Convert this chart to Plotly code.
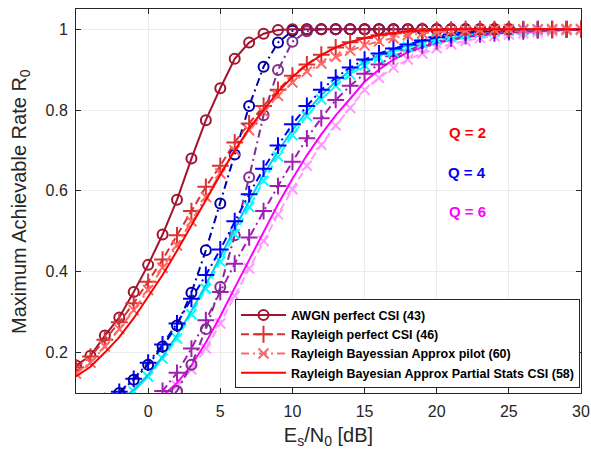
import plotly.graph_objects as go

# ---------------- data ----------------
SNR_DB = [-5, -4, -3, -2, -1, 0, 1, 2, 3, 4, 5, 6, 7, 8, 9, 10, 11, 12, 13, 14,
          15, 16, 17, 18, 19, 20, 21, 22, 23, 24, 25, 26, 27, 28, 29, 30]

# Q = 2
awgn_q2_x = SNR_DB[0:31]          # -5 .. 25
awgn_q2 = [0.168, 0.192, 0.242, 0.287, 0.350, 0.417, 0.492, 0.578, 0.680, 0.775,
           0.854, 0.927, 0.967, 0.989, 0.998, 1.0, 1.0, 1.0, 1.0, 1.0,
           1.0, 1.0, 1.0, 1.0, 1.0, 1.0, 1.0, 1.0, 1.0, 1.0, 1.0]
ray_q2_x = SNR_DB                  # -5 .. 30
ray_q2 = [0.163, 0.190, 0.232, 0.275, 0.322, 0.375, 0.430, 0.490, 0.550, 0.610,
          0.662, 0.720, 0.767, 0.810, 0.850, 0.885, 0.913, 0.937, 0.955, 0.968,
          0.978, 0.985, 0.990, 0.994, 0.996, 0.998, 0.999, 1.0, 1.0, 1.0,
          1.0, 1.0, 1.0, 1.0, 1.0, 1.0]
pilot_q2 = [0.148, 0.175, 0.215, 0.258, 0.305, 0.355, 0.410, 0.465, 0.525, 0.585,
            0.643, 0.700, 0.750, 0.795, 0.835, 0.868, 0.895, 0.915, 0.932, 0.947,
            0.960, 0.970, 0.978, 0.985, 0.990, 0.993, 0.995, 0.997, 0.998, 0.999,
            1.0, 1.0, 1.0, 1.0, 1.0, 1.0]
partial_q2 = [0.141, 0.165, 0.200, 0.238, 0.285, 0.337, 0.392, 0.452, 0.515, 0.578,
              0.640, 0.700, 0.755, 0.800, 0.845, 0.882, 0.912, 0.936, 0.955, 0.968,
              0.978, 0.986, 0.991, 0.995, 0.997, 0.999, 1.0, 1.0, 1.0, 1.0,
              1.0, 1.0, 1.0, 1.0, 1.0, 1.0]

# Q = 4
awgn_q4_x = SNR_DB[3:31]           # -2 .. 25
awgn_q4 = [0.100, 0.133, 0.170, 0.215, 0.267, 0.348, 0.453, 0.569, 0.690, 0.810,
           0.907, 0.967, 0.996, 1.0, 1.0, 1.0, 1.0, 1.0, 1.0, 1.0,
           1.0, 1.0, 1.0, 1.0, 1.0, 1.0, 1.0, 1.0]
ray_q4_x = SNR_DB[2:]              # -3 .. 30
ray_q4 = [0.080, 0.103, 0.135, 0.175, 0.220, 0.272, 0.333, 0.392, 0.455, 0.525,
          0.592, 0.655, 0.712, 0.765, 0.810, 0.850, 0.880, 0.905, 0.925, 0.940,
          0.952, 0.962, 0.972, 0.980, 0.987, 0.992, 0.995, 0.997, 0.998, 0.999,
          1.0, 1.0, 1.0, 1.0]
pilot_q4_x = SNR_DB[3:]            # -2 .. 30
pilot_q4 = [0.077, 0.104, 0.140, 0.185, 0.235, 0.295, 0.358, 0.425, 0.493, 0.560,
            0.625, 0.685, 0.738, 0.785, 0.826, 0.860, 0.888, 0.911, 0.929, 0.944,
            0.956, 0.966, 0.975, 0.982, 0.987, 0.991, 0.994, 0.996, 0.998, 0.999,
            1.0, 1.0, 1.0]
partial_q4 = [0.080, 0.108, 0.145, 0.190, 0.243, 0.303, 0.368, 0.437, 0.507, 0.575,
              0.640, 0.698, 0.750, 0.797, 0.837, 0.870, 0.897, 0.918, 0.935, 0.949,
              0.960, 0.970, 0.978, 0.985, 0.990, 0.994, 0.996, 0.998, 0.999, 1.0,
              1.0, 1.0, 1.0]

# Q = 6
awgn_q6_x = SNR_DB[6:31]           # 1 .. 25
awgn_q6 = [0.068, 0.105, 0.170, 0.258, 0.362, 0.490, 0.634, 0.787, 0.899, 0.969,
           0.995, 1.0, 1.0, 1.0, 1.0, 1.0, 1.0, 1.0, 1.0, 1.0,
           1.0, 1.0, 1.0, 1.0, 1.0]
ray_q6_x = SNR_DB[5:]              # 0 .. 30
ray_q6 = [0.075, 0.105, 0.150, 0.210, 0.280, 0.350, 0.420, 0.485, 0.550, 0.612,
          0.672, 0.730, 0.780, 0.825, 0.860, 0.890, 0.913, 0.933, 0.948, 0.960,
          0.970, 0.977, 0.983, 0.987, 0.990, 0.993, 0.995, 0.997, 0.998, 0.999, 1.0]
pilot_q6 = [0.065, 0.088, 0.118, 0.158, 0.210, 0.272, 0.340, 0.408, 0.476, 0.542,
            0.604, 0.662, 0.714, 0.762, 0.805, 0.850, 0.880, 0.905, 0.925, 0.940,
            0.953, 0.963, 0.971, 0.978, 0.983, 0.987, 0.990, 0.993, 0.995, 0.997, 0.998]
partial_q6 = [0.070, 0.093, 0.125, 0.168, 0.225, 0.290, 0.360, 0.430, 0.500, 0.567,
              0.630, 0.688, 0.740, 0.787, 0.828, 0.870, 0.900, 0.925, 0.943, 0.956,
              0.966, 0.974, 0.980, 0.985, 0.989, 0.992, 0.994, 0.996, 0.997, 0.998, 0.999]

LEGEND_NAMES = ["AWGN perfect CSI (43)", "Rayleigh perfect CSI (46)",
                "Rayleigh Bayessian Approx pilot (60)",
                "Rayleigh Bayesian Approx Partial Stats CSI (58)"]
Q_LABELS = ["Q = 2", "Q = 4", "Q = 6"]
Q_LABEL_X = 22.1
Q_LABEL_Y = [0.745, 0.645, 0.548]
X_TICKS = [0, 5, 10, 15, 20, 25, 30]
Y_TICKS = [0.2, 0.4, 0.6, 0.8, 1.0]
Y_TICK_TEXT = ["0.2", "0.4", "0.6", "0.8", "1"]
X_TITLE = "E<sub>s</sub>/N<sub>0</sub> [dB]"
Y_TITLE = "Maximum Achievable Rate R<sub>0</sub>"

FONT = "Liberation Sans, Arial, Helvetica, sans-serif"
DASH = "8px,4px"
DASHDOT = "8px,4px,2px,4px"

fig = go.Figure()


def add(x, y, color, dash, symbol, name=None, msize=10):
    mode = "lines" if symbol is None else "lines+markers"
    kw = dict(x=x, y=y, mode=mode, line=dict(color=color, width=2, dash=dash),
              showlegend=name is not None, name=("<b>%s</b>" % name) if name else "trace")
    if symbol is not None:
        kw["marker"] = dict(symbol=symbol, size=msize, color=color,
                            line=dict(color=color, width=2))
    fig.add_trace(go.Scatter(**kw))


# Q = 6 family (drawn first, underneath)
add(ray_q6_x, pilot_q6, "#FF99FF", DASH, "x-thin-open", msize=10)
add(ray_q6_x, partial_q6, "#FF00FF", "solid", None)
add(ray_q6_x, ray_q6, "#A01FB0", DASHDOT, "cross-thin-open", msize=12)
add(awgn_q6_x, awgn_q6, "#7E2F8E", DASHDOT, "circle-open", msize=10)

# Q = 4 family
add(pilot_q4_x, pilot_q4, "#00FFFF", DASH, "x-thin-open", msize=10)
add(pilot_q4_x, partial_q4, "#00CCEE", "solid", None)
add(ray_q4_x, ray_q4, "#0000FF", DASHDOT, "cross-thin-open", msize=12)
add(awgn_q4_x, awgn_q4, "#0000A8", DASHDOT, "circle-open", msize=10)

# Q = 2 family (with legend)
add(awgn_q2_x, awgn_q2, "#A2142F", "solid", "circle-open", LEGEND_NAMES[0], msize=10)
add(ray_q2_x, ray_q2, "#D93333", DASH, "cross-thin-open", LEGEND_NAMES[1], msize=12)
add(ray_q2_x, pilot_q2, "#FF6666", DASHDOT, "x-thin-open", LEGEND_NAMES[2], msize=10)
add(ray_q2_x, partial_q2, "#FF0000", "solid", None, LEGEND_NAMES[3])

q_colors = ["#FF0000", "#0000FF", "#FF00FF"]
for lab, col, yy in zip(Q_LABELS, q_colors, Q_LABEL_Y):
    fig.add_annotation(x=Q_LABEL_X, y=yy, xref="x", yref="y", text="<b>%s</b>" % lab,
                       showarrow=False, font=dict(family=FONT, size=15, color=col),
                       xanchor="center", yanchor="middle")

# y-axis title as a rotated annotation
fig.add_annotation(x=-0.111, y=0.5, xref="paper", yref="paper", text=Y_TITLE,
                   textangle=-90, showarrow=False, xanchor="center", yanchor="middle",
                   font=dict(family=FONT, size=20, color="#262626"))

axis_common = dict(showline=True, linecolor="#262626", linewidth=1, mirror="ticks",
                   ticks="inside", ticklen=5, tickcolor="#262626",
                   showgrid=True, gridcolor="#EBEBEB", gridwidth=1, zeroline=False,
                   tickfont=dict(family=FONT, size=16, color="#262626"))

fig.update_xaxes(range=[-5, 30], tickvals=X_TICKS, ticklabelstandoff=4, **axis_common,
                 title=dict(text=X_TITLE,
                            font=dict(family=FONT, size=20, color="#262626"), standoff=8))
fig.update_yaxes(range=[0.1, 1.05], tickvals=Y_TICKS, ticktext=Y_TICK_TEXT,
                 ticklabelstandoff=4, **axis_common)

fig.update_layout(
    width=591, height=457,
    margin=dict(l=76, r=10, t=9, b=64, autoexpand=False),
    paper_bgcolor="white", plot_bgcolor="white",
    showlegend=True,
    legend=dict(x=0.998, y=0.012, xanchor="right", yanchor="bottom",
                bgcolor="white", bordercolor="#262626", borderwidth=1,
                font=dict(family=FONT, size=12.5, color="#000000"),
                tracegroupgap=0, itemwidth=45),
)

# remove the browser's default page margin so the figure fills the window exactly
fig.write_html("out.html", default_width="591px", default_height="457px",
               config={"displayModeBar": False},
               post_script="document.body.style.margin='0';"
                           "document.body.style.overflow='hidden';")
